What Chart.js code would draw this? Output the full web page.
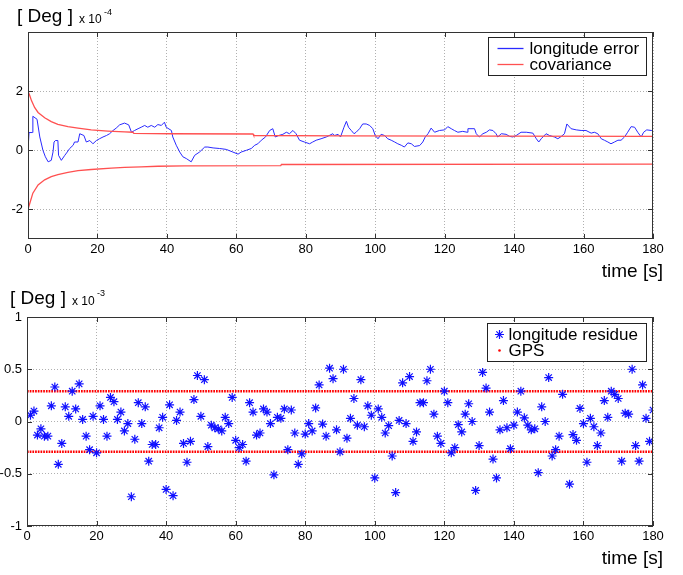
<!DOCTYPE html>
<html>
<head>
<meta charset="utf-8">
<script src="https://cdn.jsdelivr.net/npm/chart.js@4.4.0/dist/chart.umd.min.js"></script>
<style>
  body { margin: 0; background: #fff; font-family: "Liberation Sans", Arial, sans-serif; color: #000; }
  #wrap { position: relative; width: 683px; height: 575px; overflow: hidden; }
  .panel { position: absolute; left: 0; width: 683px; }
  .txt { position: absolute; white-space: nowrap; line-height: 1; }
  .big { font-size: 19px; }
  .mid { font-size: 12px; }
  .sup { font-size: 9px; }
</style>
</head>
<body>
<div id="wrap">
  <div class="panel" style="top:0;height:285px"><canvas id="errChart"></canvas></div>
  <div class="panel" style="top:285px;height:290px"><canvas id="resChart"></canvas></div>

  <div class="txt big" style="left:17px;top:6px">[ Deg ]</div>
  <div class="txt mid" style="left:79px;top:13px">x 10</div>
  <div class="txt sup" style="left:104px;top:8px">-4</div>
  <div class="txt big" style="right:20px;top:261px">time [s]</div>

  <div class="txt big" style="left:10px;top:288px">[ Deg ]</div>
  <div class="txt mid" style="left:72px;top:295px">x 10</div>
  <div class="txt sup" style="left:97px;top:289px">-3</div>
  <div class="txt big" style="right:20px;top:548px">time [s]</div>
</div>

<script>
// top panel: longitude error (x 1e-4 deg)
const errT = [0, 0.2, 0.3, 1.3, 1.4, 2.6, 3.4, 4.3, 5.0, 5.8, 6.7, 7.2, 7.5, 7.9, 8.6, 8.8, 9.6, 10.6, 11.3, 12.0,
  13.0, 13.4, 14.4, 14.9, 16.1, 16.8, 17.8, 18.7, 19.7, 20.6, 21.6, 22.6, 23.5, 24.5, 25.4, 26.4, 27.8, 29.0, 29.8, 30.7,
  31.7, 32.6, 33.6, 34.5, 35.5, 36.5, 37.4, 38.4, 39.3, 39.8, 41.3, 41.7, 42.7, 43.7, 44.6, 45.6, 47.0, 48.0, 49.4, 50.9,
  51.8, 53.3, 55.2, 57.1, 59.0, 60.5, 61.4, 62.9, 64.3, 65.3, 66.2, 67.2, 68.4, 69.6, 70.5, 71.2, 72.2, 73.4, 74.4, 75.3,
  76.3, 77.2, 78.2, 79.6, 81.1, 82.0, 83.0, 84.4, 85.9, 87.8, 88.3, 89.3, 90.0, 91.0, 91.7, 92.3, 93.1, 93.9, 94.5, 95.5,
  96.4, 97.4, 98.4, 99.3, 100.0, 100.8, 101.7, 102.7, 103.6, 104.6, 105.6, 106.5, 107.5, 108.4, 109.4, 110.4, 111.3, 112.8, 113.7, 114.4,
  115.2, 116.1, 117.1, 118.5, 120.0, 120.9, 121.9, 122.8, 123.8, 125.2, 126.5, 126.7, 128.6, 129.1, 130.0, 131.0, 132.0, 132.9, 133.9, 134.8,
  135.3, 136.3, 137.7, 138.7, 139.6, 140.6, 142.0, 143.5, 145.4, 146.4, 147.1, 147.8, 149.2, 150.2, 151.6, 152.6, 153.6, 154.5, 155.2, 156.4,
  157.9, 159.3, 160.7, 162.2, 163.1, 164.1, 165.1, 166.0, 167.0, 167.9, 168.9, 169.9, 170.8, 171.8, 172.7, 173.7, 174.7, 175.6, 176.6, 177.3,
  178.2, 179.5, 180];
const errV = [0, 0, 0.6, 0.6, 1.15, 1.05, 0.45, 0, -0.22, -0.39, -0.34, -0.06, 0.28, 0.33, 0.33, -0.17, -0.34, -0.17, -0.06, 0.06,
  0.17, 0.28, 0.28, 0.56, 0.5, 0.28, 0.33, 0.22, 0.33, 0.39, 0.45, 0.5, 0.56, 0.67, 0.75, 0.86, 0.92, 0.86, 0.61, 0.67,
  0.73, 0.78, 0.84, 0.78, 0.84, 0.78, 0.87, 0.84, 0.95, 0.78, 0.67, 0.45, 0.17, -0.06, -0.22, -0.28, -0.39, -0.17, -0.06, 0.11,
  0.11, 0.08, 0.06, 0.03, -0.06, -0.13, -0.06, 0, 0.06, 0.17, 0.22, 0.34, 0.45, 0.67, 0.73, 0.45, 0.5, 0.54, 0.61, 0.56,
  0.67, 0.56, 0.34, 0.28, 0.22, 0.28, 0.34, 0.39, 0.45, 0.56, 0.5, 0.54, 0.45, 0.78, 0.98, 0.78, 0.67, 0.56, 0.61, 0.73,
  0.89, 0.89, 0.84, 0.73, 0.5, 0.39, 0.54, 0.5, 0.39, 0.34, 0.28, 0.22, 0.17, 0.11, 0.25, 0.22, 0.13, 0.16, 0.28, 0.45,
  0.56, 0.75, 0.61, 0.67, 0.69, 0.8, 0.73, 0.67, 0.61, 0.64, 0.61, 0.73, 0.73, 0.56, 0.45, 0.56, 0.61, 0.69, 0.67, 0.56,
  0.45, 0.56, 0.54, 0.47, 0.45, 0.5, 0.61, 0.61, 0.58, 0.39, 0.28, 0.39, 0.56, 0.5, 0.45, 0.39, 0.47, 0.56, 0.89, 0.73,
  0.69, 0.67, 0.67, 0.58, 0.61, 0.56, 0.39, 0.34, 0.28, 0.22, 0.28, 0.34, 0.34, 0.45, 0.61, 0.8, 0.78, 0.61, 0.45, 0.61,
  0.69, 0.67, 0.67];

const covUpT = [0, 0.5, 1.0, 1.9, 2.9, 4.8, 6.7, 8.6, 11.5, 14.4, 18.2, 23, 27.8, 30.2, 30.5, 41.3, 64.8, 65.0, 90, 180];
const covUp = [2.0, 1.85, 1.68, 1.45, 1.28, 1.1, 0.97, 0.88, 0.8, 0.75, 0.69, 0.65, 0.62, 0.61, 0.57, 0.56, 0.55, 0.5, 0.49, 0.47];
const covLoT = [0, 0.5, 1.4, 2.9, 4.8, 6.7, 8.6, 11.5, 14.4, 18.2, 24, 27.8, 32.6, 37.4, 45.1, 72.8, 73.0, 180];
const covLo = [-2.0, -1.8, -1.45, -1.17, -1.0, -0.89, -0.82, -0.75, -0.69, -0.65, -0.6, -0.58, -0.56, -0.54, -0.525, -0.52, -0.48, -0.47];

const topYTicks = [-2, 0, 2];

// bottom panel: longitude residue (x 1e-3 deg), one sample per second from t = 1 s
const residue = [
  0.06, 0.10, -0.13, -0.07, -0.14, -0.14, 0.15, 0.33, -0.41, -0.21,
  0.14, 0.05, 0.29, 0.12, 0.36, 0.02, -0.14, -0.27, 0.05, -0.30,
  0.15, 0.02, -0.14, 0.23, 0.19, 0.02, 0.09, -0.09, -0.02, -0.72,
  -0.17, 0.18, -0.02, 0.14, -0.38, -0.22, -0.22, -0.06, 0.04, -0.65,
  0.16, -0.71, 0.01, 0.09, -0.21, -0.39, -0.19, 0.21, 0.44, 0.05,
  0.40, -0.24, -0.035, -0.06, -0.07, -0.09, 0.04, -0.02, 0.23, -0.18,
  -0.25, -0.22, -0.38, 0.18, 0.09, -0.13, -0.11, 0.12, 0.09, -0.02,
  -0.51, 0.04, 0.03, 0.12, -0.27, 0.11, -0.11, -0.41, -0.31, -0.12,
  -0.02, -0.09, 0.13, 0.35, -0.025, -0.14, 0.51, 0.41, -0.08, -0.29,
  0.50, -0.16, 0.03, 0.22, -0.035, 0.40, -0.05, 0.15, 0.06, -0.54,
  0.12, 0.04, -0.11, -0.04, -0.33, -0.68, 0.01, 0.37, -0.02, 0.43,
  -0.19, -0.10, 0.18, 0.18, 0.39, 0.50, 0.07, -0.14, -0.21, 0.29,
  0.18, -0.30, -0.25, -0.03, -0.10, 0.07, 0.17, 0.00, -0.66, -0.23,
  0.47, 0.32, 0.09, -0.36, -0.54, -0.08, 0.20, -0.06, -0.26, -0.035,
  0.09, 0.29, 0.035, -0.035, -0.08, -0.07, -0.49, 0.14, 0.00, 0.42,
  -0.33, -0.27, -0.14, 0.26, null, -0.60, -0.125, -0.18, 0.125, -0.02,
  -0.39, 0.03, -0.05, -0.23, -0.11, 0.20, 0.04, 0.29, 0.26, 0.22,
  -0.38, 0.08, 0.07, 0.50, -0.23, -0.38, 0.35, 0.03, -0.19, 0.11
];
const gpsBound = [0.29, -0.29];
const gpsSpan = [0, 180];
const botYTicks = [-1, -0.5, 0, 0.5, 1];

Chart.defaults.font.family = '"Liberation Sans", Arial, sans-serif';
Chart.defaults.color = '#000';

const pts = (xs, ys) => xs.map((x, i) => ({ x: x, y: ys[i] }));

// axes box with inward tick marks, like the original plot
const frame = {
  id: 'frame',
  afterDatasetsDraw(chart) {
    const { ctx, chartArea: a, scales } = chart;
    ctx.save();
    ctx.strokeStyle = '#333';
    ctx.lineWidth = 1;
    ctx.beginPath();
    scales.x.ticks.forEach(t => {
      const px = Math.round(scales.x.getPixelForValue(t.value)) + 0.5;
      ctx.moveTo(px, a.bottom); ctx.lineTo(px, a.bottom - 5);
      ctx.moveTo(px, a.top); ctx.lineTo(px, a.top + 5);
    });
    scales.y.ticks.forEach(t => {
      const py = Math.round(scales.y.getPixelForValue(t.value)) + 0.5;
      ctx.moveTo(a.left, py); ctx.lineTo(a.left + 5, py);
      ctx.moveTo(a.right, py); ctx.lineTo(a.right - 5, py);
    });
    ctx.stroke();
    ctx.strokeRect(Math.round(a.left) + 0.5, Math.round(a.top) + 0.5, Math.round(a.width) - 1, Math.round(a.height) - 1);
    ctx.restore();
  }
};

// boxed legend in the upper right corner of the axes
const boxLegend = {
  id: 'boxLegend',
  afterDraw(chart, args, opts) {
    const { ctx, chartArea: a } = chart;
    const x0 = Math.round(a.right - opts.right - opts.width) + 0.5;
    const y0 = Math.round(a.top + opts.top) + 0.5;
    ctx.save();
    ctx.fillStyle = '#fff';
    ctx.fillRect(x0, y0, opts.width, opts.height);
    ctx.strokeStyle = '#222';
    ctx.lineWidth = 1;
    ctx.strokeRect(x0, y0, opts.width, opts.height);
    const items = chart.data.datasets.filter(d => d.legendKind);
    ctx.font = '17px "Liberation Sans", Arial, sans-serif';
    ctx.textBaseline = 'middle';
    items.forEach((d, i) => {
      const cy = y0 + opts.rowStart + i * opts.rowGap;
      ctx.strokeStyle = d.borderColor;
      ctx.fillStyle = d.borderColor;
      if (d.legendKind === 'line') {
        ctx.lineWidth = 1.3;
        ctx.beginPath();
        ctx.moveTo(x0 + 9, cy); ctx.lineTo(x0 + 35, cy);
        ctx.stroke();
      } else if (d.legendKind === 'star') {
        const cx = x0 + 12, r = 4.5, q = r * 0.7;
        ctx.lineWidth = 1.2;
        ctx.beginPath();
        ctx.moveTo(cx - r, cy); ctx.lineTo(cx + r, cy);
        ctx.moveTo(cx, cy - r); ctx.lineTo(cx, cy + r);
        ctx.moveTo(cx - q, cy - q); ctx.lineTo(cx + q, cy + q);
        ctx.moveTo(cx - q, cy + q); ctx.lineTo(cx + q, cy - q);
        ctx.stroke();
      } else {
        ctx.beginPath();
        ctx.arc(x0 + 12, cy, 1.3, 0, Math.PI * 2);
        ctx.fill();
      }
      ctx.fillStyle = '#000';
      ctx.fillText(d.label, x0 + opts.textX, cy + 1);
    });
    ctx.restore();
  }
};

const grid = { color: '#b0b0b0', drawTicks: false, lineWidth: 1 };
const noBorder = { display: false, dash: [1, 2] };

function xAxis(h) {
  return {
    type: 'linear', min: 0, max: 180,
    grid: grid, border: noBorder,
    ticks: { stepSize: 20, padding: 3, font: { size: 13 }, maxRotation: 0 },
    afterFit(s) { s.height = h; }
  };
}

new Chart(document.getElementById('errChart'), {
  type: 'scatter',
  data: {
    datasets: [
      { label: 'longitude error', data: pts(errT, errV), showLine: true, borderColor: '#2a2aff',
        borderWidth: 1, pointRadius: 0, legendKind: 'line', order: 2 },
      { label: 'covariance', data: pts(covUpT, covUp), showLine: true, borderColor: '#ff5050',
        borderWidth: 1.3, pointRadius: 0, legendKind: 'line', order: 1 },
      { label: 'covariance lower', data: pts(covLoT, covLo), showLine: true, borderColor: '#ff5050',
        borderWidth: 1.3, pointRadius: 0, order: 1 }
    ]
  },
  options: {
    responsive: true, maintainAspectRatio: false, animation: false,
    layout: { padding: { top: 32, right: 30, left: 0, bottom: 0 } },
    plugins: {
      legend: { display: false }, tooltip: { enabled: false },
      boxLegend: { right: 7, top: 5, width: 158, height: 38, rowStart: 11, rowGap: 16, textX: 41 }
    },
    scales: {
      x: xAxis(46),
      y: {
        min: -3, max: 4,
        grid: grid, border: noBorder,
        ticks: { padding: 5, font: { size: 13 }, callback: v => String(v) },
        afterBuildTicks(s) { s.ticks = topYTicks.map(v => ({ value: v })); },
        afterFit(s) { s.width = 28; }
      }
    }
  },
  plugins: [frame, boxLegend]
});

new Chart(document.getElementById('resChart'), {
  type: 'scatter',
  data: {
    datasets: [
      { label: 'longitude residue', data: residue.map((v, i) => ({ x: i + 1, y: v })), pointStyle: 'star',
        pointRadius: 4.5, pointBorderWidth: 1.2, borderColor: '#1010ff', backgroundColor: '#1010ff',
        showLine: false, legendKind: 'star', order: 1 },
      { label: 'GPS', data: pts(gpsSpan, [gpsBound[0], gpsBound[0]]), showLine: true, borderColor: '#ff0000',
        borderWidth: 2.6, borderDash: [1.7, 1], pointRadius: 0, legendKind: 'dot', order: 2 },
      { label: 'GPS lower', data: pts(gpsSpan, [gpsBound[1], gpsBound[1]]), showLine: true, borderColor: '#ff0000',
        borderWidth: 2.6, borderDash: [1.7, 1], pointRadius: 0, order: 2 }
    ]
  },
  options: {
    responsive: true, maintainAspectRatio: false, animation: false,
    layout: { padding: { top: 32, right: 30, left: 0, bottom: 0 } },
    plugins: {
      legend: { display: false }, tooltip: { enabled: false },
      boxLegend: { right: 7, top: 6, width: 159, height: 38, rowStart: 11, rowGap: 16, textX: 21 }
    },
    scales: {
      x: xAxis(49),
      y: {
        min: -1, max: 1,
        grid: grid, border: noBorder,
        ticks: { padding: 5, font: { size: 13 }, callback: v => String(v) },
        afterBuildTicks(s) { s.ticks = botYTicks.map(v => ({ value: v })); },
        afterFit(s) { s.width = 27; }
      }
    }
  },
  plugins: [frame, boxLegend]
});
</script>
</body>
</html>
